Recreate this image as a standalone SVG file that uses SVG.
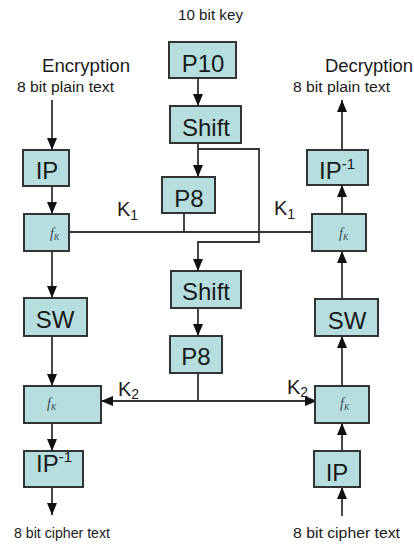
<svg xmlns="http://www.w3.org/2000/svg" width="414" height="544" viewBox="0 0 414 544">
  <style>
    .box { fill: #b6dede; stroke: #333; stroke-width: 2; }
    .lbl { font-family: "Liberation Sans", Arial, sans-serif; font-size: 24px; fill: #1a1a1a; text-anchor: middle; }
    .lbl-start { font-family: "Liberation Sans", Arial, sans-serif; font-size: 24px; fill: #1a1a1a; text-anchor: start; }
    .sm { font-family: "Liberation Sans", Arial, sans-serif; font-size: 14px; fill: #1a1a1a; }
    .hd { font-family: "Liberation Sans", Arial, sans-serif; font-size: 18px; fill: #1a1a1a; }
    .key { font-family: "Liberation Sans", Arial, sans-serif; font-size: 20px; fill: #1a1a1a; }
    .fk { font-family: "Liberation Serif", "Times New Roman", serif; font-style: italic; font-size: 14px; fill: #3a4a5a; }
    .wire { fill: none; stroke: #333; stroke-width: 1.8; }
  </style>
  <defs>
    <marker id="arrow" viewBox="0 0 12 10" refX="12" refY="5" markerWidth="12" markerHeight="10" markerUnits="userSpaceOnUse" orient="auto">
      <path d="M0,0 L12,5 L0,10 z" fill="#111"/>
    </marker>
  </defs>

  <rect width="414" height="544" fill="#fff"/>

  <!-- titles and I/O labels -->
  <text class="sm" x="178" y="20" textLength="65" lengthAdjust="spacingAndGlyphs">10 bit key</text>
  <text class="hd" x="42" y="72" textLength="88" lengthAdjust="spacingAndGlyphs">Encryption</text>
  <text class="sm" x="17" y="92" textLength="97" lengthAdjust="spacingAndGlyphs">8 bit plain text</text>
  <text class="hd" x="325" y="72" textLength="88" lengthAdjust="spacingAndGlyphs">Decryption</text>
  <text class="sm" x="293" y="92" textLength="97" lengthAdjust="spacingAndGlyphs">8 bit plain text</text>
  <text class="sm" x="14" y="538" textLength="96" lengthAdjust="spacingAndGlyphs">8 bit cipher text</text>
  <text class="sm" x="293" y="538" textLength="107" lengthAdjust="spacingAndGlyphs">8 bit cipher text</text>

  <!-- connectors -->
  <g id="connectors">
    <!-- key schedule -->
    <line class="wire" x1="198" y1="78" x2="198" y2="106" marker-end="url(#arrow)"/>
    <line class="wire" x1="198" y1="143" x2="198" y2="177" marker-end="url(#arrow)"/>
    <polyline class="wire" points="198,149 259,149 259,242 198,242 198,271" marker-end="url(#arrow)"/>
    <line class="wire" x1="184" y1="213" x2="184" y2="232"/>
    <line class="wire" x1="198" y1="308" x2="198" y2="336" marker-end="url(#arrow)"/>
    <line class="wire" x1="198" y1="373" x2="198" y2="401"/>
    <!-- K1 line -->
    <line class="wire" x1="69" y1="232" x2="317" y2="232"/>
    <!-- K2 line with arrows both ways -->
    <line class="wire" x1="198" y1="401" x2="101" y2="401" marker-end="url(#arrow)"/>
    <line class="wire" x1="198" y1="401" x2="317" y2="401" marker-end="url(#arrow)"/>
    <!-- encryption path -->
    <line class="wire" x1="52" y1="100" x2="52" y2="150" marker-end="url(#arrow)"/>
    <line class="wire" x1="52" y1="186" x2="52" y2="214" marker-end="url(#arrow)"/>
    <line class="wire" x1="52" y1="251" x2="52" y2="298" marker-end="url(#arrow)"/>
    <line class="wire" x1="52" y1="336" x2="52" y2="386" marker-end="url(#arrow)"/>
    <line class="wire" x1="52" y1="423" x2="52" y2="451" marker-end="url(#arrow)"/>
    <line class="wire" x1="52" y1="487" x2="52" y2="515" marker-end="url(#arrow)"/>
    <!-- decryption path -->
    <line class="wire" x1="342" y1="516" x2="342" y2="487" marker-end="url(#arrow)"/>
    <line class="wire" x1="342" y1="451" x2="342" y2="423" marker-end="url(#arrow)"/>
    <line class="wire" x1="342" y1="386" x2="342" y2="336" marker-end="url(#arrow)"/>
    <line class="wire" x1="342" y1="299" x2="342" y2="251" marker-end="url(#arrow)"/>
    <line class="wire" x1="342" y1="214" x2="342" y2="185" marker-end="url(#arrow)"/>
    <line class="wire" x1="342" y1="150" x2="342" y2="100" marker-end="url(#arrow)"/>
  </g>

  <!-- key schedule nodes -->
  <g id="p10">
    <rect class="box" x="169" y="42" width="67" height="36"/>
    <text class="lbl" x="203" y="72">P10</text>
  </g>
  <g id="shift1">
    <rect class="box" x="170" y="106" width="71" height="37"/>
    <text class="lbl" x="206" y="136">Shift</text>
  </g>
  <g id="p8a">
    <rect class="box" x="162" y="177" width="53" height="36"/>
    <text class="lbl" x="189" y="207">P8</text>
  </g>
  <g id="shift2">
    <rect class="box" x="171" y="271" width="70" height="37"/>
    <text class="lbl" x="206" y="300">Shift</text>
  </g>
  <g id="p8b">
    <rect class="box" x="170" y="336" width="52" height="37"/>
    <text class="lbl" x="196" y="365">P8</text>
  </g>

  <!-- encryption nodes -->
  <g id="enc-ip">
    <rect class="box" x="23" y="150" width="46" height="36"/>
    <text class="lbl" x="47" y="179">IP</text>
  </g>
  <g id="enc-fk1">
    <rect class="box" x="24" y="214" width="45" height="37"/>
    <text class="fk" x="50" y="238">f<tspan font-size="8" dy="2">K</tspan></text>
  </g>
  <g id="enc-sw">
    <rect class="box" x="24" y="298" width="63" height="38"/>
    <text class="lbl" x="55" y="328">SW</text>
  </g>
  <g id="enc-fk2">
    <rect class="box" x="24" y="386" width="77" height="37"/>
    <text class="fk" x="47" y="408">f<tspan font-size="8" dy="2">K</tspan></text>
  </g>
  <g id="enc-ipinv">
    <rect class="box" x="24" y="451" width="59" height="36"/>
    <text class="lbl-start" x="36" y="472">IP<tspan font-size="15" dy="-10">-1</tspan></text>
  </g>

  <!-- decryption nodes -->
  <g id="dec-ipinv">
    <rect class="box" x="307" y="150" width="61" height="35"/>
    <text class="lbl-start" x="319" y="179">IP<tspan font-size="15" dy="-10">-1</tspan></text>
  </g>
  <g id="dec-fk1">
    <rect class="box" x="312" y="214" width="54" height="37"/>
    <text class="fk" x="339" y="238">f<tspan font-size="8" dy="2">K</tspan></text>
  </g>
  <g id="dec-sw">
    <rect class="box" x="315" y="299" width="63" height="37"/>
    <text class="lbl" x="347" y="329">SW</text>
  </g>
  <g id="dec-fk2">
    <rect class="box" x="315" y="386" width="54" height="37"/>
    <text class="fk" x="340" y="408">f<tspan font-size="8" dy="2">K</tspan></text>
  </g>
  <g id="dec-ip">
    <rect class="box" x="314" y="451" width="46" height="36"/>
    <text class="lbl" x="337" y="481">IP</text>
  </g>

  <!-- subkey labels -->
  <text class="key" x="117" y="216">K<tspan font-size="14" dy="4">1</tspan></text>
  <text class="key" x="274" y="215">K<tspan font-size="14" dy="4">1</tspan></text>
  <text class="key" x="118" y="396">K<tspan font-size="14" dy="3">2</tspan></text>
  <text class="key" x="287" y="394">K<tspan font-size="14" dy="3">2</tspan></text>
</svg>
